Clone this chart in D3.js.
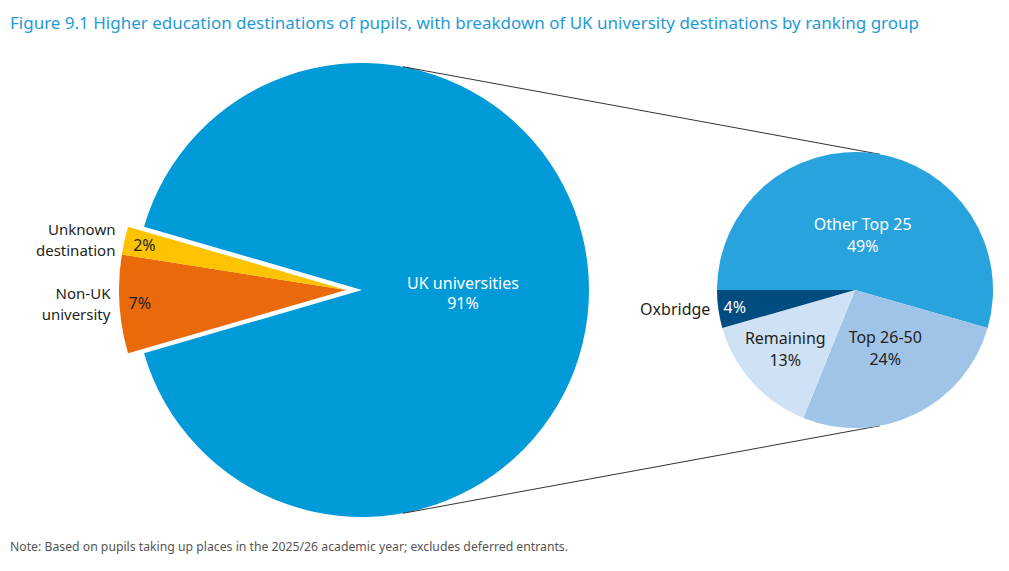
<!DOCTYPE html>
<html>
<head>
<meta charset="utf-8">
<script src="https://cdn.jsdelivr.net/npm/d3@7"></script>
<style>
  body { margin: 0; background: #fff; }
  svg text { font-family: "Noto Sans", sans-serif; }
</style>
</head>
<body>
<div id="chart"></div>
<script>
// main destinations
const destLabels = ["UK universities", "Non-UK university", "Unknown destination"];
const destValues = [91, 7, 2];
// UK university breakdown by ranking group
const rankLabels = ["Other Top 25", "Top 26-50", "Remaining", "Oxbridge"];
const rankValues = [49, 24, 13, 4];

const titleText = "Figure 9.1 Higher education destinations of pupils, with breakdown of UK university destinations by ranking group";
const noteText = "Note: Based on pupils taking up places in the 2025/26 academic year; excludes deferred entrants.";

const width = 1009, height = 571;
const big = {cx: 362, cy: 290, r: 227};
const small = {cx: 855, cy: 290, r: 138};
const explode = 16;

const destColor = d3.scaleOrdinal().domain(destLabels).range(["#009ad8", "#e9690b", "#fdc300"]);
const rankColor = d3.scaleOrdinal().domain(rankLabels).range(["#29a3dd", "#a0c4e8", "#cfe1f4", "#004b80"]);
const textDark = "#231f20";

const svg = d3.select("#chart").append("svg")
  .attr("width", width)
  .attr("height", height);

// title + note
svg.append("text")
  .attr("x", 10).attr("y", 29)
  .attr("fill", "#1f9ad6")
  .attr("font-size", 17)
  .attr("textLength", 909)
  .attr("lengthAdjust", "spacingAndGlyphs")
  .text(titleText);

svg.append("text")
  .attr("x", 10).attr("y", 551)
  .attr("fill", "#555")
  .attr("font-size", 12)
  .attr("textLength", 558)
  .attr("lengthAdjust", "spacingAndGlyphs")
  .text(noteText);

// ---- big pie ----
const total = d3.sum(destValues);
const otherAngle = 2 * Math.PI * (total - destValues[0]) / total;
const bigPie = d3.pie().sort(null)
  .startAngle(-Math.PI / 2 + otherAngle / 2)
  .endAngle(-Math.PI / 2 + otherAngle / 2 + 2 * Math.PI);
const bigArcs = bigPie(destValues).map((a, i) => Object.assign(a, {label: destLabels[i]}));

const bigArc = d3.arc().innerRadius(0).outerRadius(big.r);

const bigG = svg.append("g");
bigG.selectAll("path")
  .data(bigArcs)
  .enter()
  .append("path")
  .attr("d", bigArc)
  .attr("fill", d => destColor(d.label))
  .attr("transform", (d, i) => {
    if (i === 0) return `translate(${big.cx},${big.cy})`;
    return `translate(${big.cx - explode},${big.cy})`;
  });

// tangent connector lines
const dist = small.cx - big.cx;
const th = Math.acos((big.r - small.r) / dist);
[-1, 1].forEach(s => {
  const nx = Math.cos(th), ny = s * Math.sin(th);
  svg.append("line")
    .attr("x1", big.cx + big.r * nx).attr("y1", big.cy + big.r * ny)
    .attr("x2", small.cx + small.r * nx).attr("y2", small.cy + small.r * ny)
    .attr("stroke", "#333")
    .attr("stroke-width", 1);
});

// labels for big pie
const ukLabelArc = d3.arc().innerRadius(big.r * 0.445).outerRadius(big.r * 0.445);
const ukC = ukLabelArc.centroid(bigArcs[0]);
svg.append("text")
  .attr("x", big.cx + ukC[0]).attr("y", big.cy + ukC[1] - 1)
  .attr("text-anchor", "middle")
  .attr("fill", "#fff")
  .attr("font-size", 16)
  .text(destLabels[0]);
svg.append("text")
  .attr("x", big.cx + ukC[0]).attr("y", big.cy + ukC[1] + 19)
  .attr("text-anchor", "middle")
  .attr("fill", "#fff")
  .attr("font-size", 16)
  .text(destValues[0] + "%");

const pctArc = d3.arc().innerRadius(big.r * 0.91).outerRadius(big.r * 0.91);
const edgeArc = d3.arc().innerRadius(big.r).outerRadius(big.r);
bigArcs.slice(1).forEach(a => {
  const c = pctArc.centroid(a);
  svg.append("text")
    .attr("x", big.cx - explode + c[0])
    .attr("y", big.cy + c[1] + 6)
    .attr("text-anchor", "middle")
    .attr("fill", textDark)
    .attr("font-size", 16)
    .text(a.value + "%");

  const e = edgeArc.centroid(a);
  const words = a.label.split(" ");
  const x = big.cx - explode + e[0] - 9;
  const y = big.cy + e[1];
  svg.append("text")
    .attr("x", x).attr("y", y - 5)
    .attr("text-anchor", "end")
    .attr("fill", textDark)
    .attr("font-size", 15)
    .text(words[0]);
  svg.append("text")
    .attr("x", x).attr("y", y + 15.5)
    .attr("text-anchor", "end")
    .attr("fill", textDark)
    .attr("font-size", 15)
    .text(words.slice(1).join(" "));
});

// ---- small pie ----
const smallPie = d3.pie().sort(null)
  .startAngle(-Math.PI / 2)
  .endAngle(3 * Math.PI / 2);
const smallArcs = smallPie(rankValues).map((a, i) => Object.assign(a, {label: rankLabels[i]}));
const smallArc = d3.arc().innerRadius(0).outerRadius(small.r);

const smallG = svg.append("g")
  .attr("transform", `translate(${small.cx},${small.cy})`);
smallG.selectAll("path")
  .data(smallArcs)
  .enter()
  .append("path")
  .attr("d", smallArc)
  .attr("fill", d => rankColor(d.label));

// label radius factors for each ranking slice
const rankLabelR = [0.40, 0.50, 0.68, 0.88];
const rankTextFill = ["#fff", textDark, textDark, "#fff"];
smallArcs.forEach((a, i) => {
  const la = d3.arc().innerRadius(small.r * rankLabelR[i]).outerRadius(small.r * rankLabelR[i]);
  const c = la.centroid(a);
  if (i === 3) {
    // Oxbridge: percentage inside, name outside
    smallG.append("text")
      .attr("x", c[0]).attr("y", c[1] + 6)
      .attr("text-anchor", "middle")
      .attr("fill", rankTextFill[i])
      .attr("font-size", 16)
      .text(a.value + "%");
    const ea = d3.arc().innerRadius(small.r).outerRadius(small.r).centroid(a);
    smallG.append("text")
      .attr("x", ea[0] - 8).attr("y", ea[1] + 6)
      .attr("text-anchor", "end")
      .attr("fill", textDark)
      .attr("font-size", 16)
      .text(a.label);
    return;
  }
  const dy = i === 0 ? 0 : -4;
  smallG.append("text")
    .attr("x", c[0]).attr("y", c[1] - 5 + dy)
    .attr("text-anchor", "middle")
    .attr("fill", rankTextFill[i])
    .attr("font-size", 16)
    .text(a.label);
  smallG.append("text")
    .attr("x", c[0]).attr("y", c[1] + 17 + dy)
    .attr("text-anchor", "middle")
    .attr("fill", rankTextFill[i])
    .attr("font-size", 16)
    .text(a.value + "%");
});
</script>
</body>
</html>
